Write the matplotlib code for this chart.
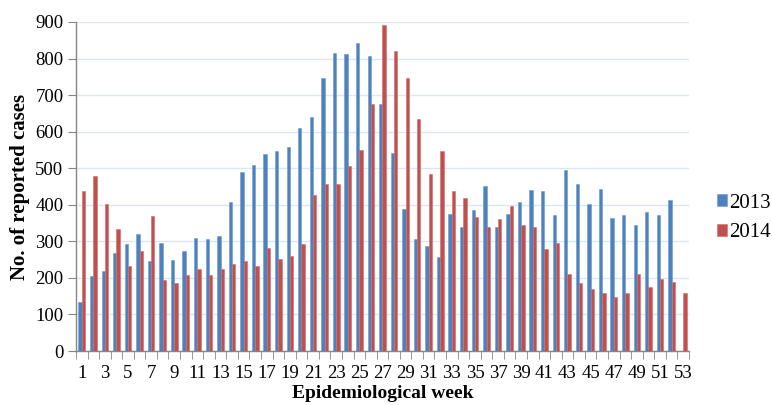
import numpy as np
import matplotlib
matplotlib.use("Agg")
import matplotlib.pyplot as plt
from matplotlib.ticker import FixedLocator

weeks = list(range(1, 54))
tick_labels = [str(w) if w % 2 == 1 else "" for w in weeks]

cases_2013 = [133, 204, 218, 267, 293, 321, 246, 296, 249, 273,
              308, 306, 314, 407, 490, 508, 540, 548, 559, 610,
              641, 747, 816, 812, 843, 808, 677, 541, 389, 306,
              287, 257, 376, 339, 385, 451, 339, 375, 407, 441,
              438, 373, 495, 458, 402, 443, 365, 371, 346, 381,
              371, 413, 0]
cases_2014 = [437, 479, 402, 335, 233, 273, 368, 194, 185, 208,
              224, 208, 224, 239, 246, 233, 282, 251, 261, 292,
              428, 456, 458, 505, 551, 675, 893, 820, 747, 634,
              483, 546, 437, 418, 366, 339, 362, 396, 345, 340,
              280, 296, 212, 185, 169, 159, 149, 160, 211, 176,
              198, 188, 160]

plt.rcParams["font.family"] = ["Liberation Serif", "DejaVu Serif"]

fig = plt.figure(figsize=(7.72, 4.05), dpi=100)
ax = fig.add_axes([0.0984, 0.1333, 0.794, 0.8124])

x = np.arange(len(weeks))
w = 0.29
ax.bar(x - w / 2, cases_2013, width=w, color="#4F81BD", edgecolor="#6B9AD3",
       linewidth=0.4, label="2013", zorder=3)
ax.bar(x + w / 2, cases_2014, width=w, color="#C0504D", edgecolor="#D06E6B",
       linewidth=0.4, label="2014", zorder=3)

ax.set_xlim(-0.5, len(weeks) - 0.5)
ax.set_ylim(0, 900)
ax.set_yticks(range(0, 901, 100))
ax.yaxis.grid(True, color="#DCE6F2", linewidth=1.0, zorder=0)

ax.set_xticks(x)
ax.set_xticklabels(tick_labels)
ax.xaxis.set_minor_locator(FixedLocator(np.arange(-0.5, len(weeks), 1)))
ax.tick_params(axis="x", which="major", length=0, pad=10, labelsize=13.5)
ax.tick_params(axis="x", which="minor", length=6, color="#868686")
ax.tick_params(axis="y", length=6, color="#868686", labelsize=13.5, pad=3)

for s in ["top", "right"]:
    ax.spines[s].set_visible(False)
for s in ["left", "bottom"]:
    ax.spines[s].set_color("#868686")
    ax.spines[s].set_linewidth(1.0)

ax.set_ylabel("No. of reported cases", fontsize=15, fontweight="bold")
ax.yaxis.set_label_coords(-0.075, 0.5)
ax.set_xlabel("Epidemiological week", fontsize=14, fontweight="bold")
ax.xaxis.set_label_coords(0.5, -0.104)

ax.legend(loc="center left", bbox_to_anchor=(1.045, 0.405), frameon=False,
          fontsize=15, handlelength=0.5, handleheight=0.5, handletextpad=0.1,
          labelspacing=0.5, borderpad=0, borderaxespad=0)

fig.savefig("out.png", dpi=100)
